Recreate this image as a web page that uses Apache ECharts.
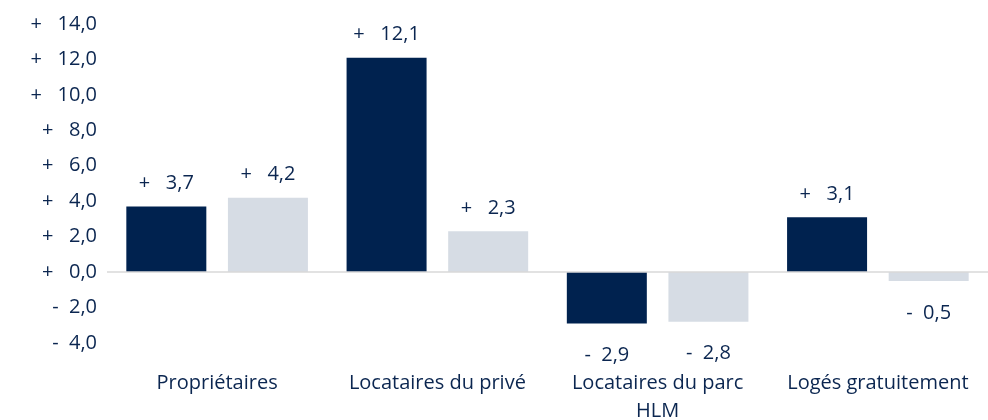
<!DOCTYPE html>
<html>
<head>
<meta charset="utf-8">
<script src="https://cdn.jsdelivr.net/npm/echarts@6/dist/echarts.min.js"></script>
<style>
  html, body { margin: 0; padding: 0; background: #fff; }
  #chart { width: 988px; height: 420px; }
</style>
</head>
<body>
<div id="chart"></div>
<script>
var categories = ['Propriétaires', 'Locataires du privé', 'Locataires du parc\nHLM', 'Logés gratuitement'];
var serieA = [3.7, 12.1, -2.9, 3.1];
var serieB = [4.2, 2.3, -2.8, -0.5];

var navy = '#00224f';
var grey = '#d6dce4';
var txt = '#0b2650';
var police = 'Open Sans';
var taille = 20;

function fmt(v) { // "+   3,7" / "-  2,9"
    return (v >= 0 ? '+   ' : '-  ') + Math.abs(v).toFixed(1).replace('.', ',');
}

function barLabels(data) {
    return data.map(function (v) {
        return {
            value: v,
            label: {
                show: true,
                position: v >= 0 ? 'top' : 'bottom',
                distance: v >= 0 ? 13 : 22,
                formatter: function (p) { return fmt(p.value); },
                color: txt,
                fontSize: taille,
                fontFamily: police
            }
        };
    });
}

var chart = echarts.init(document.getElementById('chart'));

option = {
    animation: false,
    grid: {
        top: 24,
        bottom: 77,
        left: 107,
        right: 0,
        outerBoundsMode: 'none'
    },
    xAxis: {
        type: 'category',
        data: categories,
        axisLine: { show: false, onZero: false },
        axisTick: { show: false },
        axisLabel: {
            color: txt,
            fontSize: taille,
            fontFamily: police,
            margin: 26,
            lineHeight: 28,
            interval: 0
        }
    },
    yAxis: {
        type: 'value',
        min: -4,
        max: 14,
        interval: 2,
        splitLine: { show: false },
        axisLine: { show: false },
        axisTick: { show: false },
        axisLabel: {
            color: txt,
            fontSize: taille,
            fontFamily: police,
            margin: 10,
            formatter: fmt
        }
    },
    series: [{
        type: 'bar',
        data: barLabels(serieA),
        barWidth: 80,
        barGap: '27%',
        itemStyle: { color: navy },
        markLine: {
            silent: true,
            symbol: 'none',
            label: { show: false },
            lineStyle: { color: '#d9d9d9', width: 1.5, type: 'solid' },
            data: [{ yAxis: 0 }]
        }
    }, {
        type: 'bar',
        data: barLabels(serieB),
        barWidth: 80,
        itemStyle: { color: grey }
    }]
};

chart.setOption(option);
</script>
</body>
</html>
